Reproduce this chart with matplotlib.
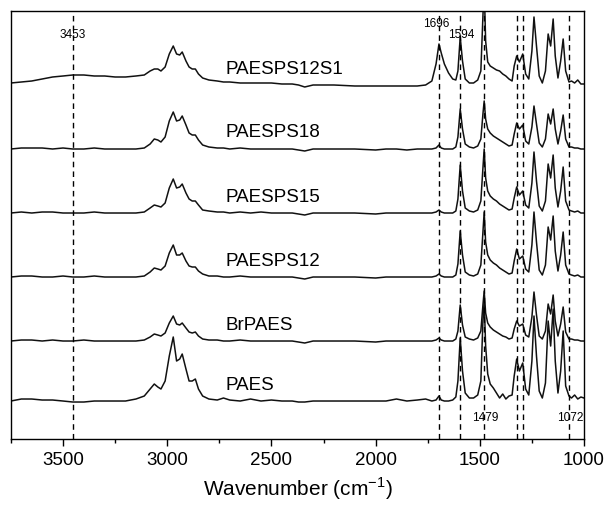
import matplotlib
matplotlib.use('Agg')
import matplotlib.pyplot as plt
from matplotlib.ticker import MultipleLocator

plt.rcParams['font.family'] = ['Liberation Sans', 'DejaVu Sans']
plt.rcParams['mathtext.fontset'] = 'custom'
plt.rcParams['mathtext.rm'] = 'Liberation Sans'

# wavenumber points (cm-1)
wavenumber = [3750, 3700, 3650, 3600, 3550, 3500, 3453, 3400, 3350, 3300, 3250, 3200, 3150,
              3110, 3082, 3062, 3045, 3030, 3010, 2990, 2971, 2955, 2940, 2928, 2910, 2895, 2880, 2865, 2850, 2830, 2800,
              2760, 2730, 2700, 2650, 2600, 2550, 2500, 2450, 2400, 2370, 2340, 2300, 2200, 2100, 2000, 1950, 1900, 1850, 1800,
              1760, 1730, 1710, 1696, 1685, 1670, 1650, 1630, 1615, 1605, 1594, 1583, 1570, 1550, 1530, 1510,
              1495, 1485, 1479, 1472, 1462, 1450, 1435, 1420, 1405, 1390, 1375, 1360, 1345, 1335, 1323, 1310, 1294, 1280, 1265,
              1250, 1240, 1228, 1215, 1200, 1185, 1172, 1160, 1148, 1138, 1125, 1112, 1100, 1088, 1072, 1060, 1045, 1030, 1015, 1000]

# absorbance (arb. units) above each trace's own baseline
paes = [0, 2, 2, 1, 1, 0, -1, -1, 0, 0, 0, 0, 2,
        5, 12, 17, 14, 12, 20, 45, 64, 40, 42, 47, 32, 20, 20, 22, 12, 5, 2,
        1, 3, 1, 0, 2, 0, 1, 0, 0, -1, -1, 0, 0, 0, 0, 0, 2, 0, 1,
        2, 0, 1, 5, 1, 0, 0, 1, 4, 20, 63, 30, 8, 3, 3, 6,
        20, 80, 100, 55, 27, 17, 13, 8, 3, 7, 2, 5, 6, 25, 42, 30, 38, 12, 6,
        40, 85, 45, 10, 3, 18, 80, 55, 92, 40, 8, 30, 70, 15, 5, 3, 6, 2, 4, 3]

brpaes = [0, 1, 1, 0, 1, 0, 0, 1, 0, 0, 0, 0, 0,
          1, 4, 7, 6, 5, 8, 18, 25, 17, 16, 18, 13, 9, 8, 9, 5, 2, 1,
          1, 0, 0, 1, 0, 0, 0, 0, 0, -1, -2, 0, 0, 0, -1, 0, 0, 0, 0,
          0, 0, 1, 3, 1, 0, 0, 0, 2, 10, 36, 16, 4, 2, 1, 3,
          10, 36, 50, 28, 18, 14, 11, 9, 7, 5, 4, 2, 3, 12, 20, 15, 17, 6, 4,
          24, 49, 26, 5, 2, 10, 37, 27, 46, 20, 5, 17, 34, 9, 2, 2, 1, 1, 0, 0]

paesps12 = [0, 1, 1, 0, 0, 1, 0, 0, 1, 0, 0, 0, 0,
            1, 5, 9, 8, 7, 11, 24, 32, 22, 22, 24, 16, 11, 10, 10, 6, 3, 1,
            1, 0, 0, 1, 0, 0, 0, 0, 0, -1, -2, 0, 0, 0, -1, 0, 0, 0, 0,
            0, 0, 1, 3, 1, 0, 0, 0, 2, 13, 46, 22, 5, 2, 1, 3,
            12, 45, 65, 35, 22, 17, 14, 12, 9, 7, 5, 3, 4, 16, 28, 18, 21, 8, 5,
            32, 65, 35, 7, 2, 12, 50, 37, 61, 26, 6, 22, 45, 12, 3, 2, 1, 2, 0, 0]

paesps15 = [0, 1, 0, 1, 1, 0, 0, 0, 1, 0, 0, 0, 0,
            1, 5, 8, 7, 6, 10, 25, 34, 25, 26, 29, 20, 14, 12, 12, 8, 3, 2,
            1, 1, 0, 1, 0, 1, 0, 0, 0, -1, -2, 0, 0, 0, -1, 0, 0, 0, 0,
            0, 0, 1, 3, 1, 0, 0, 0, 2, 14, 48, 22, 5, 2, 1, 3,
            12, 45, 64, 35, 22, 17, 14, 12, 9, 7, 5, 3, 4, 15, 26, 18, 22, 8, 5,
            30, 61, 32, 7, 2, 12, 49, 35, 58, 25, 6, 22, 46, 12, 3, 2, 1, 2, 0, 0]

paesps18 = [0, 1, 1, 1, 0, 1, 0, 0, 1, 0, 0, 0, 0,
            1, 5, 10, 9, 7, 12, 28, 37, 28, 29, 33, 24, 16, 14, 14, 9, 4, 2,
            1, 1, 0, 1, 0, 0, 0, 0, 0, -1, -2, 0, 0, 0, -1, 0, 0, -1, 0,
            0, 0, 1, 4, 1, 0, 0, 0, 2, 12, 40, 20, 5, 2, 1, 3,
            10, 35, 48, 30, 20, 16, 13, 11, 9, 7, 5, 3, 4, 15, 26, 20, 24, 8, 5,
            22, 43, 25, 6, 2, 10, 35, 25, 40, 20, 5, 18, 34, 10, 2, 2, 1, 1, 0, 0]

paesps12s1 = [3, 4, 5, 7, 9, 10, 11, 11, 10, 10, 9, 9, 10,
              11, 15, 17, 17, 15, 19, 32, 40, 32, 31, 34, 25, 19, 17, 17, 12, 8, 6,
              5, 4, 4, 3, 3, 3, 3, 2, 2, 1, -1, 1, 1, 0, 0, 0, 0, 0, 0,
              1, 5, 22, 42, 33, 22, 13, 7, 6, 15, 49, 25, 7, 3, 3, 6,
              15, 70, 100, 45, 24, 20, 18, 16, 15, 12, 10, 7, 5, 20, 30, 24, 32, 12, 7,
              35, 69, 40, 10, 3, 15, 52, 40, 67, 30, 8, 25, 47, 15, 4, 5, 3, 6, 2, 2]

samples = ['PAES', 'BrPAES', 'PAESPS12', 'PAESPS15', 'PAESPS18', 'PAESPS12S1']
spectra = [paes, brpaes, paesps12, paesps15, paesps18, paesps12s1]
offsets = [38, 98, 162, 226, 290, 353]

marked = [3453, 1696, 1594, 1479, 1323, 1294, 1072]

fig = plt.figure(figsize=(6.06, 5.06), dpi=100)
ax = fig.add_axes([0.018, 0.1304, 0.9457, 0.8459])

for name, spec, off in zip(samples, spectra, offsets):
    ax.plot(wavenumber, [v + off for v in spec], color='#111111', lw=1.1)
    ax.text(2722, off + 17, name, fontsize=13.5, va='center', ha='left')

for wn in marked:
    ax.axvline(wn, color='black', lw=1.0, ls=(0, (4, 3)))

ax.text(3453, 405, '3453', fontsize=8.5, ha='center', va='center')
ax.text(1711, 416, '1696', fontsize=8.5, ha='center', va='center')
ax.text(1588, 405, '1594', fontsize=8.5, ha='center', va='center')
ax.text(1475, 22, '1479', fontsize=8.5, ha='center', va='center')
ax.text(1068, 22, '1072', fontsize=8.5, ha='center', va='center')

ax.set_xlim(3750, 1000)
ax.set_ylim(0, 428)
ax.xaxis.set_major_locator(MultipleLocator(500))
ax.xaxis.set_minor_locator(MultipleLocator(250))
ax.tick_params(axis='x', which='major', direction='out', length=5, width=1, labelsize=13.5)
ax.tick_params(axis='x', which='minor', direction='out', length=3, width=1)
ax.set_yticks([])
for s in ax.spines.values():
    s.set_linewidth(1.0)
ax.set_xlabel('Wavenumber (cm$^{\\mathregular{-1}}$)', fontsize=15, labelpad=5)

plt.savefig('out.png', dpi=100)
